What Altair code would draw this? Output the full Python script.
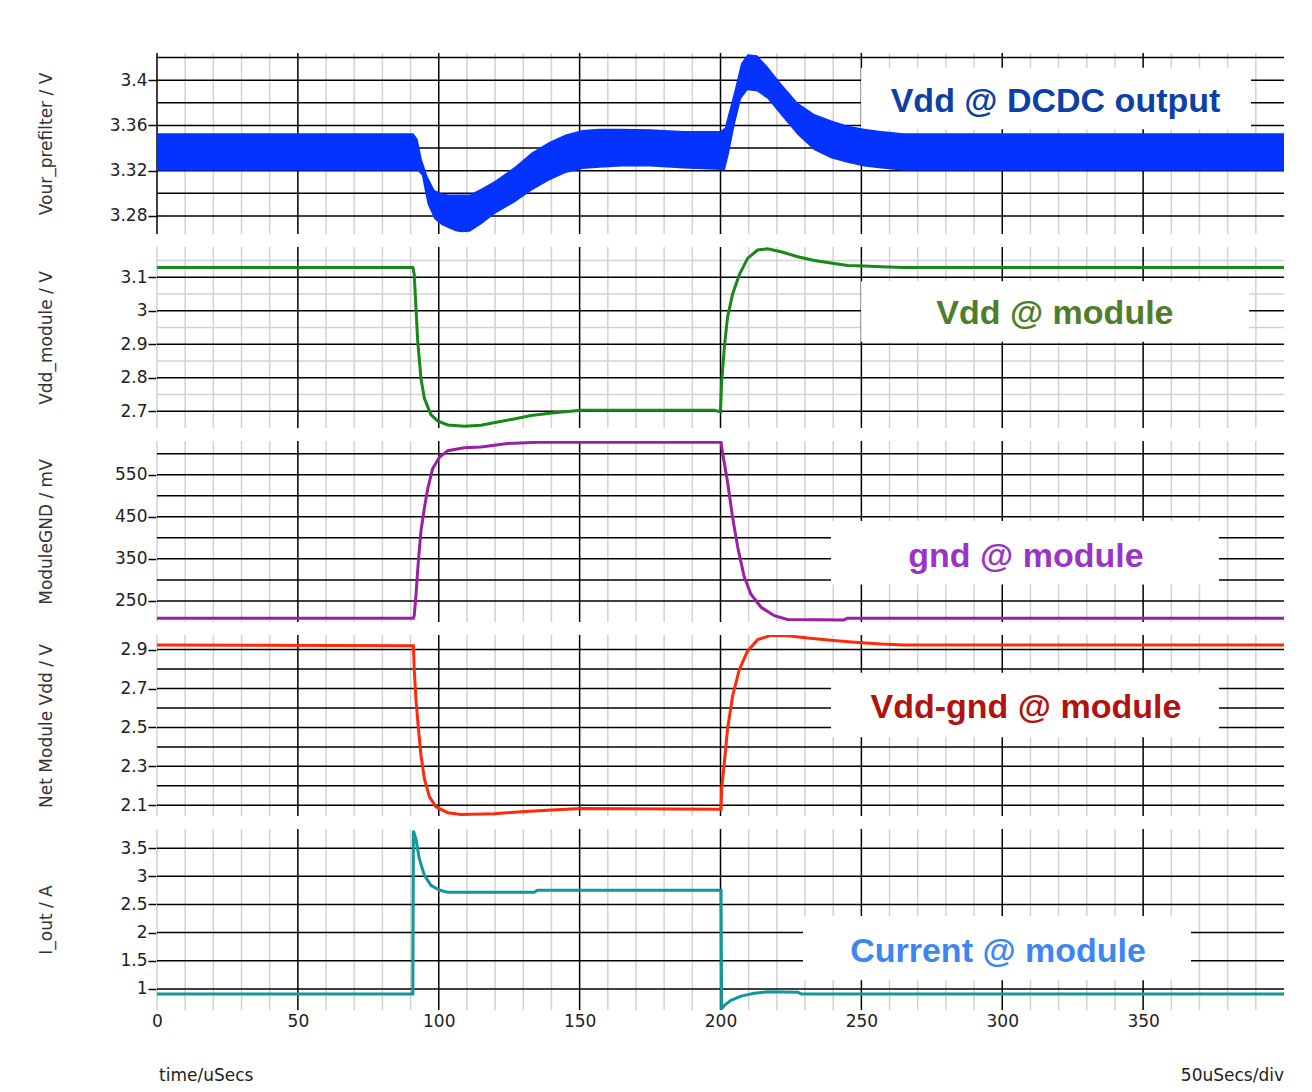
import altair as alt
import pandas as pd

# ---------------- data ----------------
# Panel 1: Vour_prefilter (V) - ripple band, upper and lower envelope
p1_t = [0, 91, 92.5, 94, 96, 98.5, 101, 103.5, 106, 108, 111, 115, 120, 127, 133, 139, 145, 151,
        157, 165, 175, 187, 200, 201.5, 203, 205, 207.3, 209.6, 213, 216.7, 221.5, 227.4, 233.3,
        239.2, 245, 251, 257, 265, 400]
p1_upper = [3.353, 3.353, 3.348, 3.330, 3.315, 3.303, 3.300, 3.299, 3.299, 3.299, 3.299, 3.304,
            3.311, 3.3235, 3.336, 3.345, 3.352, 3.356, 3.357, 3.357, 3.3565, 3.355, 3.355, 3.358,
            3.372, 3.391, 3.415, 3.423, 3.422, 3.412, 3.397, 3.380, 3.370, 3.3646, 3.360, 3.357,
            3.355, 3.353, 3.353]
p1_lower = [3.320, 3.320, 3.320, 3.316, 3.2906, 3.277, 3.272, 3.269, 3.2665, 3.2655, 3.266, 3.2724,
            3.282, 3.292, 3.3025, 3.311, 3.318, 3.3215, 3.3225, 3.3236, 3.3236, 3.322, 3.3205,
            3.320, 3.335, 3.360, 3.3835, 3.391, 3.390, 3.3835, 3.369, 3.3516, 3.338, 3.331, 3.327,
            3.3236, 3.322, 3.320, 3.320]

# Panel 2: Vdd_module (V)
p2_t = [0, 90.8, 91.3, 91.9, 92.5, 93.7, 94.9, 97.2, 99.6, 103.2, 109.1, 115, 120.9, 126.8, 132.7,
        141, 150.5, 174, 197.8, 200, 200.4, 201.4, 202.5, 204.3, 206.7, 209.6, 213.2, 216.7, 221.5,
        227.4, 233.3, 239.2, 245.1, 251, 257, 265, 400]
p2_v = [3.129, 3.129, 3.108, 3.011, 2.913, 2.797, 2.7385, 2.69, 2.671, 2.659, 2.655, 2.658, 2.668,
        2.677, 2.687, 2.6956, 2.7026, 2.703, 2.703, 2.698, 2.787, 2.894, 2.981, 3.05, 3.108, 3.156,
        3.181, 3.185, 3.176, 3.161, 3.15, 3.142, 3.135, 3.133, 3.131, 3.129, 3.129]

# Panel 3: ModuleGND (mV)
p3_t = [0, 91, 91.3, 91.9, 92.7, 93.7, 94.9, 96.1, 97.8, 100.2, 103.2, 109.1, 115, 124.4, 135,
        200.2, 200.7, 202.5, 204.3, 206.1, 208.4, 210.8, 214.4, 219.1, 223.8, 243.9, 245, 400]
p3_v = [209, 209, 215, 262, 339, 417, 471, 517, 564, 591, 607, 614, 616, 624, 627, 627, 603, 533,
        448, 378, 308, 266, 235, 215, 206, 205, 209, 209]

# Panel 4: Net Module Vdd (V)
p4_t = [0, 91, 91.3, 91.9, 92.7, 93.7, 94.9, 96.7, 99, 103.2, 107.9, 119.7, 129.2, 143.4, 150.5,
        200.2, 200.4, 201.4, 202.5, 204.3, 206.7, 209.6, 213.2, 217.9, 223.8, 230.9, 239.2, 247.5,
        257, 265, 400]
p4_v = [2.924, 2.92, 2.798, 2.645, 2.509, 2.356, 2.237, 2.143, 2.092, 2.062, 2.053, 2.056, 2.067,
        2.0786, 2.083, 2.08, 2.186, 2.322, 2.492, 2.662, 2.798, 2.892, 2.951, 2.973, 2.971, 2.96,
        2.948, 2.938, 2.929, 2.924, 2.924]

# Panel 5: I_out (A)
p5_t = [0, 90.8, 91, 91.9, 93.1, 94.9, 97.2, 100.2, 103.2, 133.9, 135, 200.2, 200.4, 201.4, 203.7,
        207.3, 212, 216.7, 227.4, 228.6, 400]
p5_v = [0.91, 0.91, 3.81, 3.66, 3.31, 3.02, 2.84, 2.756, 2.715, 2.715, 2.75, 2.75, 0.649, 0.708,
        0.796, 0.872, 0.924, 0.947, 0.94, 0.91, 0.91]

# grid / tick values
x_major = [0, 50, 100, 150, 200, 250, 300, 350]
x_major_no0 = [50, 100, 150, 200, 250, 300, 350]
x_minor = [10, 20, 30, 40, 60, 70, 80, 90, 110, 120, 130, 140, 160, 170, 180, 190, 210, 220, 230,
           240, 260, 270, 280, 290, 310, 320, 330, 340, 360, 370, 380, 390]
x_minor0 = [0] + x_minor
x_labels = [0, 50, 100, 150, 200, 250, 300, 350]

p1_grid = [3.28, 3.30, 3.32, 3.34, 3.36, 3.38, 3.40, 3.42]
p1_ticks = [3.28, 3.32, 3.36, 3.4]
p2_grid = [2.7, 2.8, 2.9, 3.0, 3.1]
p2_grid_minor = [2.75, 2.85, 2.95, 3.05, 3.15]
p2_ticks = [2.7, 2.8, 2.9, 3.0, 3.1]
p3_grid = [250, 300, 350, 400, 450, 500, 550, 600]
p3_ticks = [250, 350, 450, 550]
p4_grid = [2.1, 2.2, 2.3, 2.4, 2.5, 2.6, 2.7, 2.8, 2.9]
p4_ticks = [2.1, 2.3, 2.5, 2.7, 2.9]
p5_grid = [1, 1.5, 2, 2.5, 3, 3.5]
p5_ticks = [1, 1.5, 2, 2.5, 3, 3.5]

# annotation labels
ann_text = ["Vdd @ DCDC output", "Vdd @ module", "gnd @ module", "Vdd-gnd @ module",
            "Current @ module"]
ann_colors = ["#0b40a6", "#4e7d2b", "#9a34c6", "#b01410", "#3c86f2"]

# ---------------- layout ----------------
W = 1127
H = 181
FONT = "DejaVu Sans"
LABEL_EXPR = "format(datum.value, '~r')"
xscale = alt.Scale(domain=[0, 400], nice=False, zero=False)


def panel(line_df, color, domain, title, ticks, grid_black, grid_gray, vmajor, vminor,
          box, label_pos, label, label_color, band=False, bottom=False, width_line=3):
    yscale = alt.Scale(domain=domain, nice=False, zero=False)
    if bottom:
        xaxis = alt.Axis(values=x_labels, labelExpr=LABEL_EXPR, title=None, ticks=False,
                         labelPadding=3, labelFont=FONT, labelFontSize=17, labelColor="#222",
                         domain=False, grid=False, labelFlush=False)
    else:
        xaxis = None
    yaxis = alt.Axis(values=ticks, labelExpr=LABEL_EXPR, title=title, titleX=-111,
                     titleBaseline="middle", titleFont=FONT, titleFontSize=17,
                     titleFontWeight="normal", titleColor="#333", labelFont=FONT,
                     labelFontSize=17, labelColor="#222", tickColor="black", tickSize=9,
                     tickWidth=1.5, labelPadding=1, domain=False, grid=False, labelFlush=False)

    def X(f):
        return alt.X(f, type="quantitative", scale=xscale, axis=xaxis)

    def Y(f):
        return alt.Y(f, type="quantitative", scale=yscale, axis=yaxis)

    layers = []
    # vertical grid
    layers.append(alt.Chart(pd.DataFrame({"t": vminor})).mark_rule(
        color="#d2d2d2", strokeWidth=1.5).encode(x=X("t")))
    if grid_gray:
        layers.append(alt.Chart(pd.DataFrame({"v": grid_gray})).mark_rule(
            color="#d2d2d2", strokeWidth=1.5).encode(y=Y("v")))
    layers.append(alt.Chart(pd.DataFrame({"t": vmajor})).mark_rule(
        color="black", strokeWidth=1.5).encode(x=X("t")))
    layers.append(alt.Chart(pd.DataFrame({"v": grid_black})).mark_rule(
        color="black", strokeWidth=1.5).encode(y=Y("v")))

    # white label box
    bdf = pd.DataFrame({"t1": [box[0]], "t2": [box[1]], "v1": [box[2]], "v2": [box[3]]})
    layers.append(alt.Chart(bdf).mark_rect(color="white").encode(
        x=X("t1"), x2="t2", y=Y("v1"), y2="v2"))

    # data
    if band:
        layers.append(alt.Chart(line_df).mark_area(color=color, opacity=1, clip=True,
                                                   interpolate="linear").encode(
            x=X("t"), y=Y("lo"), y2="hi"))
    else:
        layers.append(alt.Chart(line_df).mark_line(color=color, strokeWidth=width_line,
                                                   clip=True).encode(
            x=X("t"), y=Y("v"), order="i:Q"))

    # label text
    tdf = pd.DataFrame({"t": [label_pos[0]], "v": [label_pos[1]], "s": [label]})
    layers.append(alt.Chart(tdf).mark_text(font="Liberation Sans", fontSize=34,
                                           fontWeight="bold", color=label_color,
                                           baseline="middle", align="center", dy=2).encode(
        x=X("t"), y=Y("v"), text="s:N"))

    if bottom:
        ldf = pd.DataFrame({"s": ["time/uSecs"]})
        layers.append(alt.Chart(ldf).mark_text(font=FONT, fontSize=17, color="#222",
                                               align="left", baseline="middle").encode(
            x=alt.value(2), y=alt.value(247), text="s:N"))
        rdf = pd.DataFrame({"s": ["50uSecs/div"]})
        layers.append(alt.Chart(rdf).mark_text(font=FONT, fontSize=17, color="#222",
                                               align="right", baseline="middle").encode(
            x=alt.value(W), y=alt.value(247), text="s:N"))

    return alt.layer(*layers).properties(width=W, height=H)


df1 = pd.DataFrame({"t": p1_t, "hi": p1_upper, "lo": p1_lower})
df2 = pd.DataFrame({"t": p2_t, "v": p2_v, "i": range(len(p2_t))})
df3 = pd.DataFrame({"t": p3_t, "v": p3_v, "i": range(len(p3_t))})
df4 = pd.DataFrame({"t": p4_t, "v": p4_v, "i": range(len(p4_t))})
df5 = pd.DataFrame({"t": p5_t, "v": p5_v, "i": range(len(p5_t))})

c1 = panel(df1, "#0433ff", [3.264, 3.424], "Vour_prefilter / V", p1_ticks, p1_grid, None,
           x_major, x_minor, [249.9, 388.3, 3.3565, 3.411], [318.9, 3.3823], ann_text[0],
           ann_colors[0], band=True)
c2 = panel(df2, "#17891a", [2.65, 3.19], "Vdd_module / V", p2_ticks, p2_grid, p2_grid_minor,
           x_major_no0, x_minor0, [249.9, 387.6, 2.907, 3.088], [318.7, 2.995], ann_text[1],
           ann_colors[1])
c3 = panel(df3, "#9b1fa3", [200, 630], "ModuleGND / mV", p3_ticks, p3_grid, None,
           x_major_no0, x_minor0, [239.2, 376.9, 289, 440], [308.4, 358.6], ann_text[2],
           ann_colors[2])
c4 = panel(df4, "#ff2a0a", [2.045, 2.975], "Net Module Vdd / V", p4_ticks, p4_grid, None,
           x_major_no0, x_minor0, [239.2, 376.9, 2.449, 2.781], [308.4, 2.608], ann_text[3],
           ann_colors[3])
c5 = panel(df5, "#12979a", [0.625, 3.84], "I_out / A", p5_ticks, p5_grid, None,
           x_major_no0, x_minor0, [229.3, 367.0, 1.153, 2.294], [298.5, 1.697], ann_text[4],
           ann_colors[4], bottom=True)

chart = alt.vconcat(c1, c2, c3, c4, c5, spacing=11).properties(
    padding={"left": 28, "top": 44, "right": 10, "bottom": 5},
    background="white",
).configure_view(stroke=None).configure_axis(grid=False, domain=False)

chart.save("out.html", embed_options={"renderer": "svg", "actions": False})
